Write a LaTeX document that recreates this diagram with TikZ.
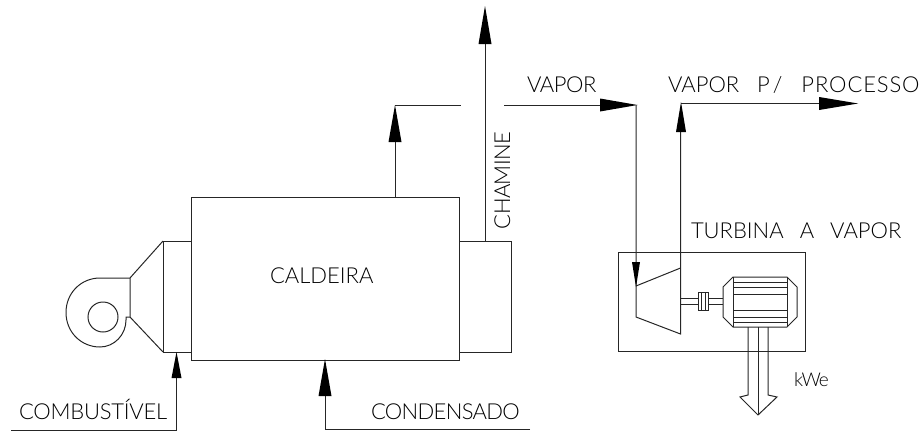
\documentclass[tikz,border=0pt]{standalone}
\usepackage{fontspec}
\setmainfont{Lato Light}
\newcommand{\lspc}[1]{\addfontfeatures{LetterSpace=#1}}
\tikzset{
  ln/.style={line width=1pt,draw=black!85},
  head/.style={fill=black,draw=none},
  lbl/.style={inner sep=0pt,outer sep=0pt,font=\fontsize{22}{22}\selectfont,text=black,anchor=base west},
}
\begin{document}
\begin{tikzpicture}[x=1pt,y=-1pt]
\useasboundingbox (0,0) rectangle (923,431);
% boiler
\draw[ln] (191,197) rectangle (459,360);
\draw[ln] (163,241) rectangle (191,352);
\draw[ln] (459,241) rectangle (511,352);
\draw[ln] (163,241) -- (130,278) -- (130,317) -- (163,352);
\draw[ln] (130,278) -- (100,278) .. controls (81,278) and (66,293) .. (66,312.5) .. controls (66,332) and (81,347) .. (100,347) .. controls (114,347) and (126,335) .. (126,320) -- (126,317) -- (130,317);
\draw[ln] (103,317) circle (15);
% fuel and condensate
\draw[ln] (11,430) -- (176.5,430) -- (176.5,360);
\fill[head] (176.5,352) -- (181.5,378) -- (171.5,378) -- cycle;
\draw[ln] (530,429) -- (325,429) -- (325,380);
\fill[head] (325,359) -- (331.5,396) -- (318.5,396) -- cycle;
% flue
\draw[ln] (485,241) -- (485,30);
\fill[head] (485,6) -- (491.5,44) -- (478.5,44) -- cycle;
% steam
\draw[ln] (395,197) -- (395,125);
\draw[ln] (395,105) -- (461,105);
\fill[head] (395,105) -- (401.5,142) -- (388.5,142) -- cycle;
\draw[ln] (504,105) -- (620,105);
\fill[head] (637.5,105) -- (600,98.5) -- (600,111.5) -- cycle;
\draw[ln] (636,105) -- (636,317) -- (680.5,334) -- (680.5,120);
\draw[ln] (636,286) -- (680.5,268);
\fill[head] (636,287) -- (640,262) -- (632,262) -- cycle;
\fill[head] (681,102) -- (686,132) -- (676,132) -- cycle;
\draw[ln] (681,103.5) -- (830,103.5);
\fill[head] (858,103.5) -- (819,97) -- (819,110) -- cycle;
% turbine box
\draw[ln] (618,252) rectangle (805,351);
% shaft and coupling
\draw[ln] (680.5,298) -- (698,298) (680.5,304) -- (698,304);
\draw[ln] (708,298) -- (723,298) (708,304) -- (723,304);
\draw[ln] (698,292) rectangle (708,310);
\draw[ln] (701,292) -- (701,310) (705,292) -- (705,310);
% generator
\draw[ln] (723,287) -- (733,277) -- (787,277) -- (797,287) -- (797,317) -- (787,327) -- (733,327) -- (723,317) -- cycle;
\draw[ln] (733,277) -- (733,327) (787,277) -- (787,327);
\draw[ln] (733,282) -- (787,282) (733,287) -- (787,287) (733,294) -- (787,294)
          (733,310) -- (787,310) (733,317) -- (787,317) (733,322) -- (787,322);
% power output
\draw[ln] (748,327) -- (748,395) -- (740,397) -- (758,415) -- (777,397) -- (768,395) -- (768,327);
\draw[ln] (758,327) -- (758,415);
% labels
\node[lbl] (cal) at (270,283) {CALDEIRA};
\node[lbl] (comb) at (19,419) {\lspc{-1}COMBUSTÍVEL};
\node[lbl] (cond) at (371,419) {\lspc{-3}CONDENSADO};
\node[lbl,rotate=90] (cham) at (510,229) {\lspc{-3}CHAMINE};
\node[lbl] (vap) at (527,92) {\lspc{-2}VAPOR};
\node[lbl] (proc) at (668,92) {VAPOR\hspace{12pt} {\lspc{18}P/}\hspace{13pt} {\lspc{4}PROCESSO}};
\node[lbl] (turb) at (691,238) {TURBINA\hspace{10pt} A\hspace{10pt} VAPOR};
\node[lbl,font=\fontsize{19}{19}\selectfont] (kwe) at (794,386) {\lspc{-6}kWe};
\end{tikzpicture}
\end{document}
